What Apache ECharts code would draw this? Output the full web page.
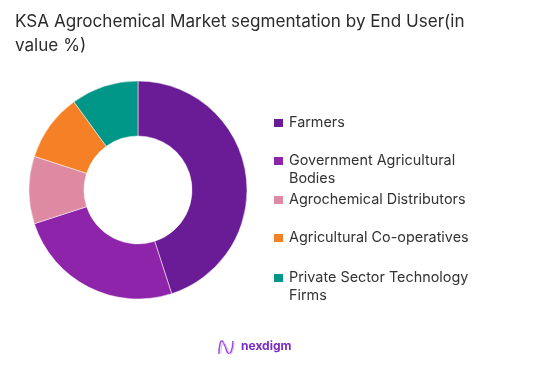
<!DOCTYPE html>
<html>
<head>
<meta charset="utf-8">
<script src="https://cdn.jsdelivr.net/npm/echarts@6/dist/echarts.min.js"></script>
<style>
  html, body { margin: 0; padding: 0; background: #ffffff; }
  #chart { width: 554px; height: 377px; }
</style>
</head>
<body>
<div id="chart"></div>
<script>
// End-user segments and their share of market value (%)
const segments = [
  'Farmers',
  'Government Agricultural Bodies',
  'Agrochemical Distributors',
  'Agricultural Co-operatives',
  'Private Sector Technology Firms'
];
const shares = [45, 25, 10, 10, 10];
const colors = ['#6a1b96', '#8e24aa', '#de8aa2', '#f58025', '#009688'];

// Legend labels wrapped the way they are shown beside the donut.
// Wrapped labels get a blank leading line so the swatch sits beside the first line.
const legendLabels = {
  'Farmers': 'Farmers',
  'Government Agricultural Bodies': ' \nGovernment Agricultural\nBodies',
  'Agrochemical Distributors': 'Agrochemical Distributors',
  'Agricultural Co-operatives': 'Agricultural Co-operatives',
  'Private Sector Technology Firms': ' \nPrivate Sector Technology\nFirms'
};
const legendTops = [114, 134, 191, 229, 251];

const chart = echarts.init(document.getElementById('chart'));

const legends = segments.map((name, i) => ({
  data: [name],
  orient: 'vertical',
  left: 272,
  top: legendTops[i],
  padding: 0,
  icon: 'rect',
  itemWidth: 11,
  itemHeight: 10,
  itemGap: 0,
  selectedMode: false,
  formatter: n => legendLabels[n],
  textStyle: {
    fontFamily: 'Inter, "Open Sans", sans-serif',
    fontSize: 14.4,
    color: '#333333',
    lineHeight: 18
  }
}));

chart.setOption({
  animation: false,
  title: {
    text: 'KSA Agrochemical Market segmentation by End User(in\nvalue %)',
    left: 10,
    top: 5,
    textStyle: {
      fontFamily: 'Inter, "Open Sans", sans-serif',
      fontSize: 17.1,
      fontWeight: 'normal',
      color: '#2b2b2b',
      lineHeight: 24
    }
  },
  color: colors,
  legend: legends,
  series: [{
    type: 'pie',
    center: [138, 190],
    radius: [54, 109],
    startAngle: 90,
    clockwise: true,
    label: { show: false },
    labelLine: { show: false },
    itemStyle: { borderColor: '#ffffff', borderWidth: 0.5 },
    data: segments.map((name, i) => ({ name, value: shares[i] }))
  }],
  graphic: [
    {
      type: 'polyline',
      shape: {
        points: [[219, 354], [220, 344], [222, 341], [225, 346], [228, 353], [231, 352], [233, 341]],
        smooth: 0.5
      },
      style: { fill: null, stroke: '#9b4dd6', lineWidth: 1.5 }
    },
    {
      type: 'polyline',
      shape: {
        points: [[221, 353], [222, 345], [224, 343], [227, 348], [230, 354], [233, 350], [234, 342]],
        smooth: 0.5
      },
      style: { fill: null, stroke: '#d7a8f0', lineWidth: 1 }
    },
    {
      type: 'text',
      left: 241,
      top: 340,
      style: {
        text: 'nexdigm',
        fontFamily: 'Inter, "Open Sans", sans-serif',
        fontSize: 12,
        fontWeight: 'bold',
        fill: '#7b2bc4'
      }
    }
  ]
});
</script>
</body>
</html>
